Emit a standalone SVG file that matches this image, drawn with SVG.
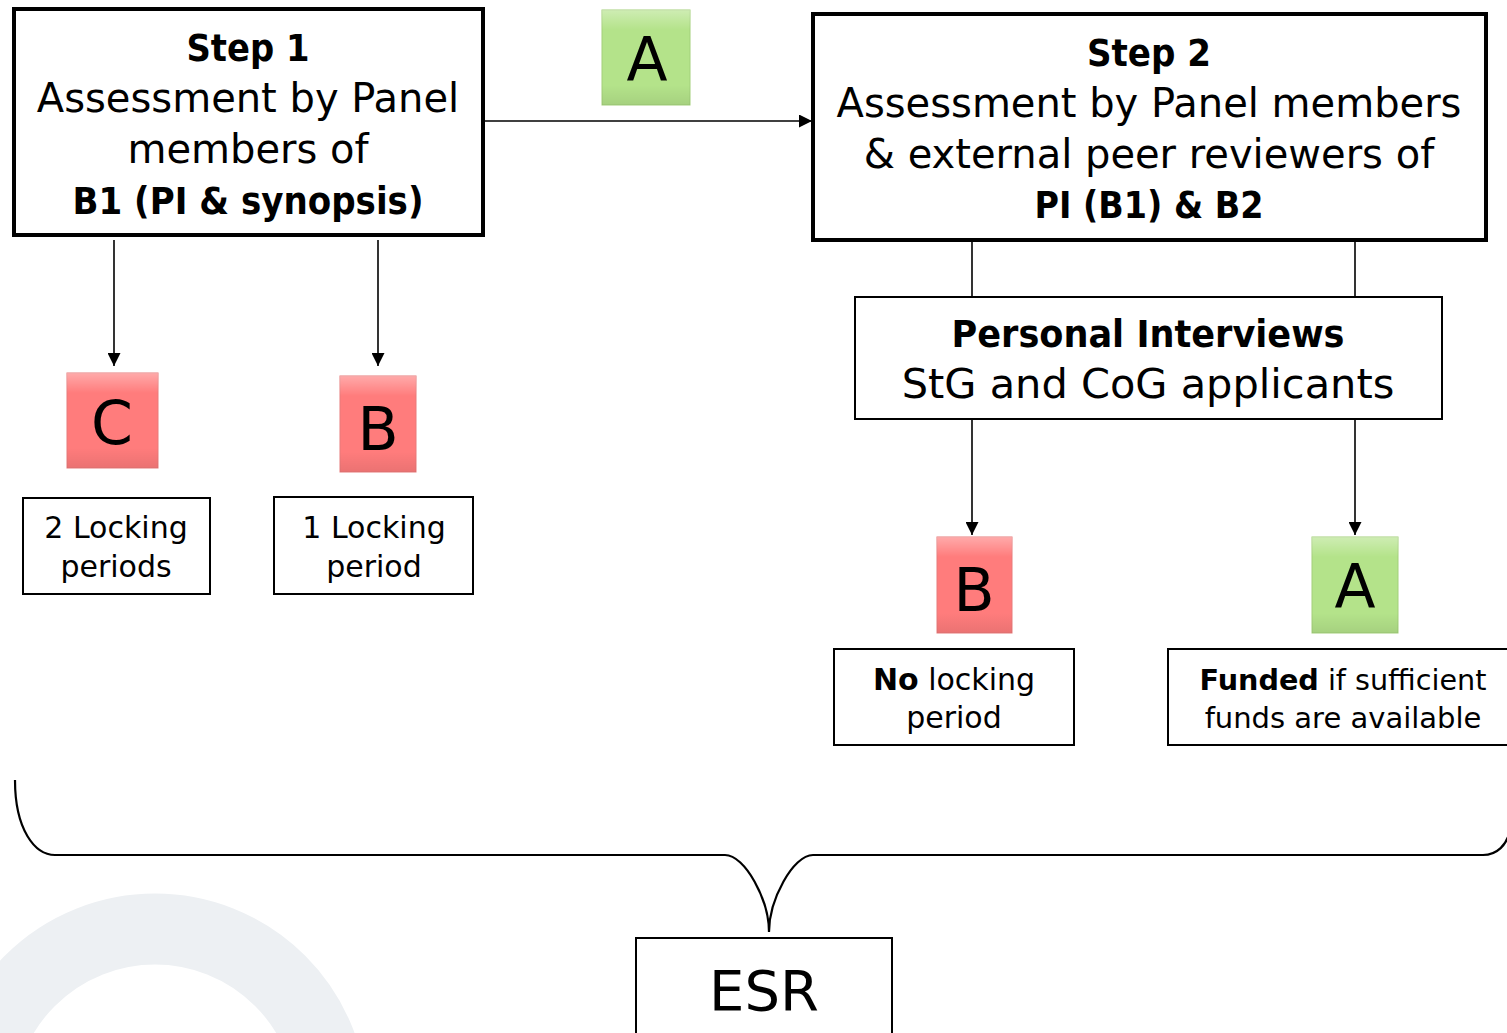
<svg xmlns="http://www.w3.org/2000/svg" width="1507" height="1033" viewBox="0 0 1507 1033">
<style>
text{font-family:"DejaVu Sans","Liberation Sans",sans-serif;fill:#000;text-anchor:middle}
.b{font-weight:bold}
.big{fill:#fff;stroke:#000;stroke-width:4}
.box{fill:#fff;stroke:#000;stroke-width:2}
.con{fill:none;stroke:#000;stroke-width:1.6}
.t40{font-size:40px}
.t34{font-size:37px;font-weight:bold}
.t30{font-size:30px}
.t28{font-size:29px}
.badge{font-size:60px}
</style>
<defs>
<marker id="ar" viewBox="0 0 10 10" refX="10" refY="5" markerWidth="14" markerHeight="13" markerUnits="userSpaceOnUse" orient="auto"><path d="M0,0 L10,5 L0,10 z" fill="#000"/></marker>
<marker id="ar2" viewBox="0 0 10 10" refX="10" refY="5" markerWidth="16" markerHeight="13" markerUnits="userSpaceOnUse" orient="auto"><path d="M0,0 L10,5 L0,10 z" fill="#000"/></marker>
<linearGradient id="gTop" x1="0" y1="0" x2="0" y2="1"><stop offset="0" stop-color="#fff" stop-opacity="0.35"/><stop offset="1" stop-color="#fff" stop-opacity="0"/></linearGradient>
<linearGradient id="gBot" x1="0" y1="0" x2="0" y2="1"><stop offset="0" stop-color="#000" stop-opacity="0"/><stop offset="1" stop-color="#000" stop-opacity="0.08"/></linearGradient>
</defs>
<circle cx="155" cy="1106" r="177" fill="none" stroke="#edf0f3" stroke-width="71"/>
<g id="connectors">
<line class="con" x1="483" y1="121" x2="812" y2="121" marker-end="url(#ar2)"/>
<line class="con" x1="114" y1="240" x2="114" y2="366" marker-end="url(#ar)"/>
<line class="con" x1="378" y1="240" x2="378" y2="366" marker-end="url(#ar)"/>
<line class="con" x1="972" y1="240" x2="972" y2="297"/>
<line class="con" x1="1355" y1="240" x2="1355" y2="297"/>
<line class="con" x1="972" y1="419" x2="972" y2="535" marker-end="url(#ar)"/>
<line class="con" x1="1355" y1="419" x2="1355" y2="535" marker-end="url(#ar)"/>
<path class="con" style="stroke-width:2.2" d="M15,780 C15,830 35,855 55,855 L725,855 C745,855 769,900 769,932 C769,900 793,855 813,855 L1483,855 C1497,855 1507,845 1510,830"/>
</g>
<g id="step1">
<rect class="big" x="14" y="9" width="469" height="226"/>
<text class="t34" x="248" y="61" textLength="123" lengthAdjust="spacingAndGlyphs">Step 1</text>
<text class="t40" x="248" y="112">Assessment by Panel</text>
<text class="t40" x="248" y="163">members of</text>
<text class="t34" x="248" y="214" textLength="351" lengthAdjust="spacingAndGlyphs">B1 (PI &amp; synopsis)</text>
</g>
<g id="badgeA1">
<rect x="602" y="10" width="88" height="95" fill="#b4e38a" stroke="#a3d07a" stroke-width="1"/>
<rect x="602" y="10" width="88" height="20" fill="url(#gTop)"/>
<rect x="602" y="85" width="88" height="20" fill="url(#gBot)"/>
<text class="badge" x="647" y="80">A</text>
</g>
<g id="step2">
<rect class="big" x="813" y="14" width="673" height="226"/>
<text class="t34" x="1149" y="66" textLength="124" lengthAdjust="spacingAndGlyphs">Step 2</text>
<text class="t40" x="1149" y="117">Assessment by Panel members</text>
<text class="t40" x="1149" y="168">&amp; external peer reviewers of</text>
<text class="t34" x="1149" y="218" textLength="229" lengthAdjust="spacingAndGlyphs">PI (B1) &amp; B2</text>
</g>
<g id="interviews">
<rect class="box" x="855" y="297" width="587" height="122"/>
<text class="t34" x="1148" y="347" textLength="393" lengthAdjust="spacingAndGlyphs">Personal Interviews</text>
<text class="t40" style="font-size:41.5px" x="1148" y="398">StG and CoG applicants</text>
</g>
<g id="badgeC">
<rect x="67" y="373" width="91" height="95" fill="#ff7c7c" stroke="#e87a7a" stroke-width="1"/>
<rect x="67" y="373" width="91" height="20" fill="url(#gTop)"/>
<rect x="67" y="448" width="91" height="20" fill="url(#gBot)"/>
<text class="badge" x="112" y="444">C</text>
</g>
<g id="badgeB1">
<rect x="340" y="376" width="76" height="96" fill="#ff7c7c" stroke="#e87a7a" stroke-width="1"/>
<rect x="340" y="376" width="76" height="20" fill="url(#gTop)"/>
<rect x="340" y="452" width="76" height="20" fill="url(#gBot)"/>
<text class="badge" x="378" y="450">B</text>
</g>
<g id="lock2">
<rect class="box" x="23" y="498" width="187" height="96"/>
<text class="t30" x="116" y="538">2 Locking</text>
<text class="t30" x="116" y="577">periods</text>
</g>
<g id="lock1">
<rect class="box" x="274" y="497" width="199" height="97"/>
<text class="t30" x="374" y="538">1 Locking</text>
<text class="t30" x="374" y="577">period</text>
</g>
<g id="badgeB2">
<rect x="937" y="537" width="75" height="96" fill="#ff7c7c" stroke="#e87a7a" stroke-width="1"/>
<rect x="937" y="537" width="75" height="20" fill="url(#gTop)"/>
<rect x="937" y="613" width="75" height="20" fill="url(#gBot)"/>
<text class="badge" x="974" y="611">B</text>
</g>
<g id="badgeA2">
<rect x="1312" y="537" width="86" height="96" fill="#b4e38a" stroke="#a3d07a" stroke-width="1"/>
<rect x="1312" y="537" width="86" height="20" fill="url(#gTop)"/>
<rect x="1312" y="613" width="86" height="20" fill="url(#gBot)"/>
<text class="badge" x="1355" y="607">A</text>
</g>
<g id="nolock">
<rect class="box" x="834" y="649" width="240" height="96"/>
<text class="t30" x="954" y="690"><tspan class="b">No</tspan> locking</text>
<text class="t30" x="954" y="728">period</text>
</g>
<g id="funded">
<rect class="box" x="1168" y="649" width="345" height="96"/>
<text class="t28" x="1343" y="690" textLength="287" lengthAdjust="spacingAndGlyphs"><tspan class="b">Funded</tspan> if sufficient</text>
<text class="t28" x="1343" y="728">funds are available</text>
</g>
<g id="esr">
<rect class="box" x="636" y="938" width="256" height="100"/>
<text style="font-size:56px" x="764" y="1010">ESR</text>
</g>
</svg>
